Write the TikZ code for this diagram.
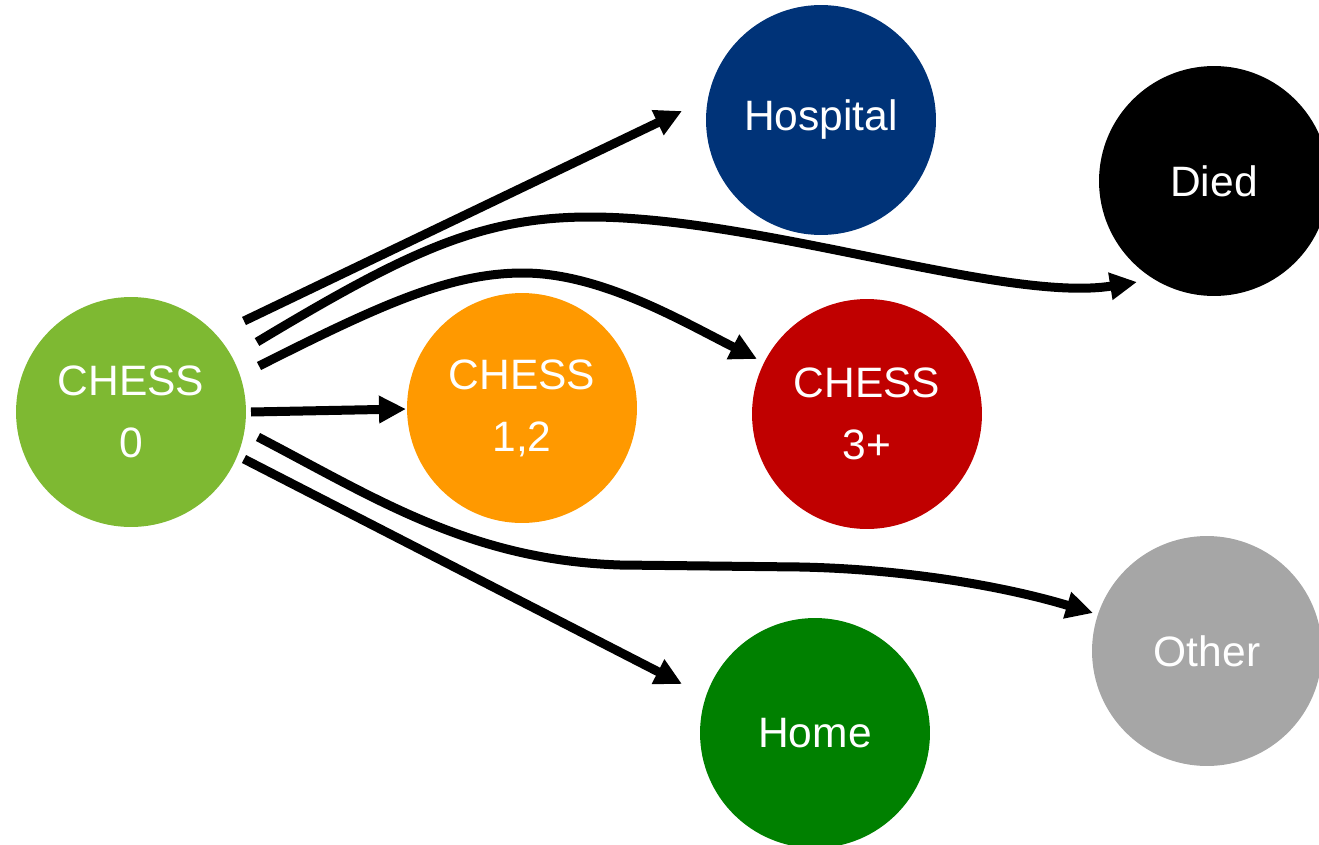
\documentclass[tikz,border=0pt]{standalone}
\usepackage{fontspec}
\setmainfont{Liberation Sans}
\usetikzlibrary{arrows.meta}
\definecolor{cgreen}{RGB}{126,185,50}
\definecolor{corange}{RGB}{255,153,0}
\definecolor{cred}{RGB}{192,0,0}
\definecolor{cblue}{RGB}{0,51,120}
\definecolor{chome}{RGB}{0,128,0}
\definecolor{cgray}{RGB}{166,166,166}
\begin{document}
\begin{tikzpicture}[x=0.02cm,y=-0.02cm,
  state/.style={circle,inner sep=0pt,minimum size=4.6cm,text=white,
    font=\fontsize{24.2}{35.4}\selectfont,align=center},
  conn/.style={line width=0.18cm,-{Triangle[length=0.54cm,width=0.52cm]}}]
\clip (0,0) rectangle (1319,845);
% nodes
\node[state,fill=cgreen]  (c0)   at (131,412) {CHESS\\0};
\node[state,fill=corange] (c12)  at (522,408) {CHESS\\1,2};
\node[state,fill=cred]    (c3)   at (867,414) {CHESS\\3+};
\node[state,fill=cblue]   (hosp) at (821,120) {Hospital};
\node[state,fill=black]   (died) at (1214,181) {Died};
\node[state,fill=cgray]   (oth)  at (1207,651) {Other};
\node[state,fill=chome]   (home) at (815,733) {Home};
% connector end points
\coordinate (sHosp) at (244,321);
\coordinate (eHosp) at (682,111);
\coordinate (sDied) at (257,342);
\coordinate (eDied) at (1137,282);
\coordinate (sC3)   at (259,366);
\coordinate (eC3)   at (757,359);
\coordinate (sC12)  at (251,412);
\coordinate (eC12)  at (406,409);
\coordinate (sOth)  at (258,437);
\coordinate (eOth)  at (1093,613);
\coordinate (sHome) at (244,459);
\coordinate (eHome) at (682,684);
% connectors
\draw[conn] (sHosp) -- (eHosp);
\draw[conn] (sDied) .. controls (407,252) and (480,217) .. (590,217)
  .. controls (760,217) and (1005,303) .. (eDied);
\draw[conn] (sC3) .. controls (380,305) and (450,273) .. (523,273)
  .. controls (600,273) and (680,320) .. (eC3);
\draw[conn] (sC12) -- (eC12);
\draw[conn] (sOth) .. controls (375,498) and (470,560) .. (620,565)
  -- (800,567) .. controls (900,569) and (1000,585) .. (eOth);
\draw[conn] (sHome) -- (eHome);
\end{tikzpicture}
\end{document}
